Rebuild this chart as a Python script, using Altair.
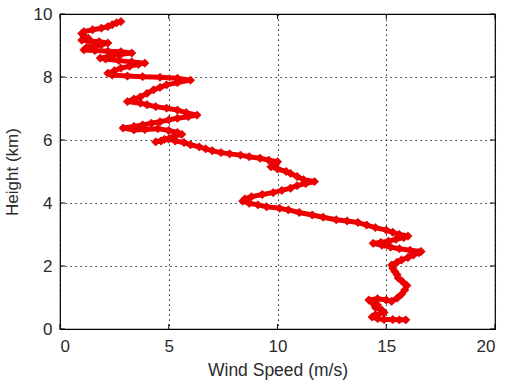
import altair as alt
import pandas as pd

# Wind speed profile, ordered bottom to top
height_km = [0.29, 0.29, 0.30, 0.30, 0.33, 0.38, 0.45, 0.52, 0.60, 0.68, 0.76, 0.84, 0.92, 0.96, 0.92, 0.88,
             0.98, 1.10, 1.24, 1.38, 1.50, 1.62, 1.72, 1.82, 1.93, 2.03, 2.12, 2.19, 2.27, 2.35, 2.42, 2.46,
             2.50, 2.55, 2.60, 2.66, 2.72, 2.75, 2.79, 2.85, 2.90, 2.95, 3.00, 3.07, 3.14, 3.22, 3.30, 3.38,
             3.43, 3.47, 3.55, 3.62, 3.70, 3.78, 3.83, 3.88, 3.94, 3.99, 4.06, 4.13, 4.20, 4.27, 4.33, 4.40,
             4.47, 4.55, 4.62, 4.68, 4.74, 4.84, 4.94, 5.00, 5.08, 5.15, 5.23, 5.31, 5.36, 5.42, 5.47, 5.52,
             5.56, 5.60, 5.66, 5.72, 5.78, 5.85, 5.92, 5.97, 6.03, 5.97, 5.94, 6.02, 6.10, 6.18, 6.24, 6.30,
             6.36, 6.33, 6.32, 6.38, 6.43, 6.48, 6.53, 6.58, 6.64, 6.69, 6.74, 6.79, 6.87, 6.95, 7.01, 7.06,
             7.12, 7.17, 7.22, 7.30, 7.37, 7.48, 7.59, 7.67, 7.75, 7.82, 7.90, 7.96, 7.99, 8.01, 8.03, 8.06,
             8.12, 8.20, 8.28, 8.34, 8.40, 8.44, 8.48, 8.52, 8.57, 8.60, 8.66, 8.72, 8.76, 8.80, 8.82, 8.84,
             8.86, 8.92, 8.97, 9.02, 9.08, 9.12, 9.14, 9.17, 9.23, 9.30, 9.38, 9.44, 9.50, 9.55, 9.60, 9.66,
             9.72, 9.76]
speed_ms = [15.9, 15.6, 15.3, 14.9, 14.6, 14.35, 14.5, 14.9, 14.8, 14.5, 14.6, 14.35, 14.2, 14.6, 15.0, 15.25,
            15.5, 15.7, 15.85, 15.95, 15.75, 15.55, 15.5, 15.4, 15.3, 15.25, 15.5, 15.7, 16.0, 16.25, 16.5, 16.6,
            16.1, 15.6, 15.2, 14.8, 14.4, 14.75, 15.1, 15.45, 15.8, 16.0, 15.6, 15.3, 15.0, 14.5, 14.1, 13.7,
            13.2, 12.7, 12.1, 11.6, 11.0, 10.5, 10.1, 9.5, 9.1, 8.7, 8.4, 8.5, 8.8, 9.3, 9.8, 10.2,
            10.6, 10.9, 11.3, 11.7, 11.2, 10.9, 10.6, 10.4, 10.0, 9.7, 9.9, 10.0, 9.6, 9.2, 8.7, 8.3,
            7.8, 7.4, 7.0, 6.7, 6.4, 6.0, 5.7, 5.3, 5.0, 4.65, 4.4, 4.8, 5.2, 5.6, 5.4, 5.0,
            4.5, 3.9, 3.4, 2.9, 3.4, 3.8, 4.2, 4.6, 5.0, 5.4, 5.9, 6.3, 5.8, 5.4, 4.9, 4.4,
            4.0, 3.7, 3.1, 3.4, 3.7, 4.0, 4.3, 4.6, 4.9, 5.4, 6.0, 5.4, 4.6, 3.8, 3.1, 2.4,
            2.2, 2.5, 2.8, 3.2, 3.6, 3.9, 3.3, 2.7, 2.1, 1.85, 2.3, 2.8, 3.3, 2.8, 2.2, 1.6,
            1.1, 1.2, 1.5, 1.9, 2.2, 1.8, 1.3, 1.0, 1.3, 1.1, 1.0, 1.1, 1.5, 1.9, 2.2, 2.4,
            2.6, 2.8]

x_ticks = [0, 5, 10, 15, 20]
y_ticks = [0, 2, 4, 6, 8, 10]

W, H = 435, 315
FONT = "Liberation Sans"
RED = "#f00000"

df = pd.DataFrame({"i": list(range(len(speed_ms))), "speed": speed_ms, "height": height_km})
xt = pd.DataFrame({"speed": x_ticks})
yt = pd.DataFrame({"height": y_ticks})

x_axis = alt.Axis(values=x_ticks, title="Wind Speed (m/s)", grid=True, gridDash=[1.2, 3.8],
                  gridColor="#000000", gridOpacity=1, gridWidth=1.1, ticks=False, domain=False,
                  labelFontSize=17, labelPadding=9, titleFontSize=17.5, titleFontWeight="normal",
                  titlePadding=7, labelColor="#2a2a2a", titleColor="#2a2a2a",
                  labelFont=FONT, titleFont=FONT)
y_axis = alt.Axis(values=y_ticks, title="Height (km)", grid=True, gridDash=[1.2, 3.8],
                  gridColor="#000000", gridOpacity=1, gridWidth=1.1, ticks=False, domain=False,
                  labelFontSize=17, labelPadding=8, titleFontSize=17, titleFontWeight="normal",
                  titlePadding=12, labelColor="#2a2a2a", titleColor="#2a2a2a",
                  labelFont=FONT, titleFont=FONT)

X = alt.X("speed:Q", scale=alt.Scale(domain=[0, 20], nice=False), axis=x_axis)
Y = alt.Y("height:Q", scale=alt.Scale(domain=[0, 10], nice=False), axis=y_axis)

line = alt.Chart(df).mark_line(color=RED, strokeWidth=5, strokeJoin="round").encode(x=X, y=Y, order="i:Q")
pts = alt.Chart(df).mark_point(shape="diamond", filled=True, size=70, color=RED,
                               opacity=1, stroke="#d40000", strokeWidth=0.6).encode(x=X, y=Y)

tick_b = alt.Chart(xt).mark_rule(color="black").encode(x=X, y=alt.value(H), y2=alt.value(H - 5))
tick_t = alt.Chart(xt).mark_rule(color="black").encode(x=X, y=alt.value(0), y2=alt.value(5))
tick_l = alt.Chart(yt).mark_rule(color="black").encode(y=Y, x=alt.value(0), x2=alt.value(5))
tick_r = alt.Chart(yt).mark_rule(color="black").encode(y=Y, x=alt.value(W), x2=alt.value(W - 5))

chart = alt.layer(line, pts, tick_b, tick_t, tick_l, tick_r).properties(
    width=W, height=H,
    padding={"left": 60, "top": 14, "right": 15, "bottom": 54},
    autosize=alt.AutoSizeParams(type="none"),
    background="white",
).configure_view(stroke="#000000", strokeWidth=1.2)

chart.save("out.html", embed_options={"renderer": "svg", "actions": False})
